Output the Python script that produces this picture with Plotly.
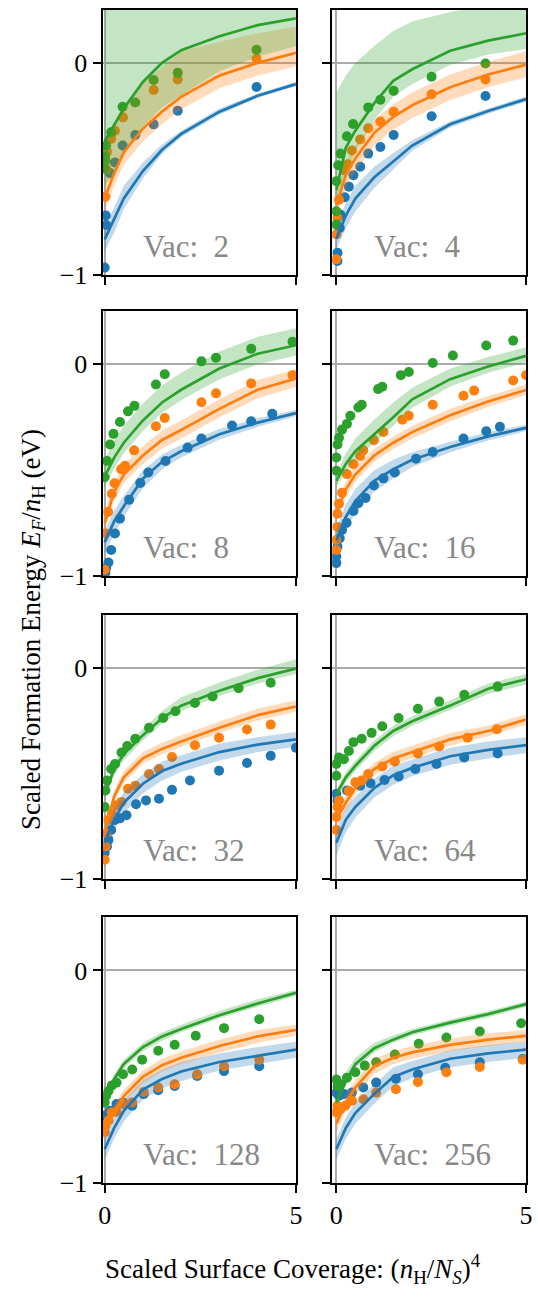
import plotly.graph_objects as go

# ---------------- data ----------------
VACANCIES = [2, 4, 8, 16, 32, 64, 128, 256]
SERIES = ["BLUE", "ORANGE", "GREEN"]
COLORS = {"BLUE": "#1f77b4", "ORANGE": "#ff7f0e", "GREEN": "#2ca02c"}
FILLS = {"BLUE": "rgba(31,119,180,0.28)", "ORANGE": "rgba(255,127,14,0.28)", "GREEN": "rgba(44,160,44,0.28)"}
LINE_X = [0, 0.25, 0.5, 1, 1.5, 2, 3, 4, 5]
X_TICKS = [0, 5]
Y_TICKS = [-1, 0]
Y_TICK_TEXT = ["\u22121", "0"]

# ---- Vac 2 ----
V2_BLUE_X = [0.0, 0.03, 0.04, 0.14, 0.27, 0.47, 0.80, 1.28, 1.91, 3.97]
V2_BLUE_Y = [-0.966, -0.72, -0.765, -0.52, -0.47, -0.39, -0.34, -0.29, -0.226, -0.114]
V2_ORANGE_X = [0.02, 0.04, 0.06, 0.17, 0.27, 0.48, 1.28, 1.91, 3.97]
V2_ORANGE_Y = [-0.632, -0.50, -0.42, -0.358, -0.32, -0.257, -0.128, -0.078, 0.019]
V2_GREEN_X = [0.0, 0.01, 0.02, 0.04, 0.17, 0.47, 0.80, 1.28, 1.91, 3.97]
V2_GREEN_Y = [-0.50, -0.44, -0.46, -0.39, -0.327, -0.207, -0.187, -0.081, -0.047, 0.062]
V2_BLUE_FIT = [-0.833, -0.74, -0.64, -0.51, -0.41, -0.335, -0.23, -0.155, -0.10]
V2_BLUE_LO = [-0.89, -0.80, -0.69, -0.545, -0.43, -0.35, -0.245, -0.165, -0.11]
V2_BLUE_HI = [-0.78, -0.68, -0.58, -0.47, -0.385, -0.32, -0.215, -0.145, -0.09]
V2_ORANGE_FIT = [-0.64, -0.52, -0.42, -0.31, -0.23, -0.16, -0.06, 0.0, 0.047]
V2_ORANGE_LO = [-0.70, -0.58, -0.48, -0.37, -0.29, -0.22, -0.12, -0.06, -0.016]
V2_ORANGE_HI = [-0.45, -0.29, -0.20, -0.09, -0.02, 0.055, 0.10, 0.14, 0.17]
V2_GREEN_FIT = [-0.37, -0.29, -0.215, -0.09, 0.0, 0.06, 0.126, 0.178, 0.21]
V2_GREEN_LO = [-0.58, -0.52, -0.44, -0.30, -0.21, -0.155, -0.04, 0.03, 0.078]
V2_GREEN_HI = [0.5, 0.5, 0.5, 0.5, 0.5, 0.5, 0.5, 0.5, 0.5]

# ---- Vac 4 ----
V4_BLUE_X = [0.03, 0.03, 0.09, 0.11, 0.22, 0.33, 0.45, 0.63, 0.84, 1.16, 1.51, 2.51, 3.93]
V4_BLUE_Y = [-0.935, -0.896, -0.779, -0.717, -0.634, -0.584, -0.53, -0.49, -0.428, -0.397, -0.34, -0.252, -0.156]
V4_ORANGE_X = [0.0, 0.0, 0.03, 0.07, 0.20, 0.30, 0.41, 0.63, 0.84, 1.16, 1.51, 2.51, 3.93]
V4_ORANGE_Y = [-0.927, -0.81, -0.732, -0.646, -0.506, -0.478, -0.413, -0.361, -0.308, -0.277, -0.231, -0.148, -0.078]
V4_GREEN_X = [0.0, 0.0, 0.0, 0.05, 0.11, 0.28, 0.44, 0.84, 1.16, 1.51, 2.51, 3.93]
V4_GREEN_Y = [-0.763, -0.70, -0.558, -0.483, -0.428, -0.346, -0.288, -0.21, -0.174, -0.132, -0.065, -0.003]
V4_BLUE_FIT = [-0.83, -0.72, -0.64, -0.54, -0.465, -0.39, -0.29, -0.227, -0.171]
V4_BLUE_LO = [-0.88, -0.78, -0.70, -0.59, -0.505, -0.415, -0.305, -0.24, -0.183]
V4_BLUE_HI = [-0.78, -0.66, -0.58, -0.49, -0.425, -0.365, -0.275, -0.215, -0.159]
V4_ORANGE_FIT = [-0.67, -0.53, -0.45, -0.33, -0.255, -0.20, -0.115, -0.055, -0.008]
V4_ORANGE_LO = [-0.73, -0.59, -0.51, -0.39, -0.315, -0.26, -0.175, -0.115, -0.068]
V4_ORANGE_HI = [-0.61, -0.47, -0.39, -0.27, -0.195, -0.14, -0.055, 0.005, 0.055]
V4_GREEN_FIT = [-0.60, -0.40, -0.32, -0.19, -0.085, -0.03, 0.057, 0.105, 0.14]
V4_GREEN_LO = [-0.72, -0.52, -0.42, -0.27, -0.16, -0.10, -0.01, 0.04, 0.065]
V4_GREEN_HI = [-0.14, -0.06, 0.0, 0.08, 0.15, 0.195, 0.24, 0.27, 0.28]

# ---- Vac 8 ----
V8_BLUE_X = [0.02, 0.04, 0.10, 0.17, 0.27, 0.40, 0.64, 0.93, 1.14, 1.59, 2.17, 2.53, 3.33, 3.83, 4.38]
V8_BLUE_Y = [-0.984, -0.961, -0.935, -0.876, -0.798, -0.728, -0.639, -0.56, -0.51, -0.456, -0.393, -0.35, -0.289, -0.269, -0.233]
V8_ORANGE_X = [0.0, 0.02, 0.09, 0.19, 0.26, 0.43, 0.53, 0.77, 1.34, 1.57, 2.53, 2.91, 3.83, 4.91]
V8_ORANGE_Y = [-0.969, -0.798, -0.697, -0.611, -0.561, -0.495, -0.479, -0.406, -0.292, -0.253, -0.179, -0.137, -0.09, -0.051]
V8_GREEN_X = [0.0, 0.06, 0.14, 0.23, 0.40, 0.61, 0.78, 1.34, 1.57, 2.53, 2.91, 3.83, 4.91]
V8_GREEN_Y = [-0.533, -0.456, -0.378, -0.328, -0.272, -0.222, -0.196, -0.095, -0.047, 0.014, 0.031, 0.073, 0.107]
V8_BLUE_FIT = [-0.84, -0.74, -0.67, -0.54, -0.46, -0.41, -0.33, -0.275, -0.23]
V8_BLUE_LO = [-0.89, -0.80, -0.72, -0.585, -0.495, -0.44, -0.355, -0.295, -0.245]
V8_BLUE_HI = [-0.79, -0.69, -0.62, -0.50, -0.425, -0.38, -0.305, -0.255, -0.215]
V8_ORANGE_FIT = [-0.75, -0.60, -0.52, -0.43, -0.357, -0.31, -0.21, -0.12, -0.067]
V8_ORANGE_LO = [-0.79, -0.64, -0.56, -0.47, -0.397, -0.35, -0.25, -0.16, -0.107]
V8_ORANGE_HI = [-0.70, -0.555, -0.475, -0.385, -0.312, -0.265, -0.165, -0.075, -0.022]
V8_GREEN_FIT = [-0.53, -0.44, -0.37, -0.265, -0.18, -0.12, -0.02, 0.05, 0.09]
V8_GREEN_LO = [-0.58, -0.49, -0.42, -0.315, -0.23, -0.17, -0.07, 0.0, 0.04]
V8_GREEN_HI = [-0.45, -0.36, -0.29, -0.185, -0.10, -0.04, 0.06, 0.13, 0.17]

# ---- Vac 16 ----
V16_BLUE_X = [0.0, 0.0, 0.03, 0.09, 0.15, 0.27, 0.45, 0.58, 0.77, 0.99, 1.24, 1.54, 2.10, 2.54, 3.35, 3.95, 4.31]
V16_BLUE_Y = [-0.938, -0.907, -0.86, -0.821, -0.782, -0.748, -0.692, -0.655, -0.631, -0.572, -0.538, -0.51, -0.445, -0.414, -0.35, -0.316, -0.295]
V16_ORANGE_X = [0.0, 0.0, 0.03, 0.03, 0.07, 0.15, 0.28, 0.45, 0.63, 0.71, 0.99, 1.24, 1.74, 1.91, 2.54, 3.35, 3.63, 4.66, 5.0]
V16_ORANGE_Y = [-0.876, -0.829, -0.767, -0.705, -0.658, -0.606, -0.518, -0.471, -0.432, -0.406, -0.358, -0.319, -0.261, -0.243, -0.191, -0.148, -0.124, -0.076, -0.051]
V16_GREEN_X = [0.0, 0.0, 0.03, 0.07, 0.15, 0.28, 0.37, 0.58, 0.67, 1.10, 1.21, 1.70, 1.91, 2.54, 3.07, 3.95, 4.66]
V16_GREEN_Y = [-0.502, -0.44, -0.378, -0.347, -0.308, -0.281, -0.243, -0.204, -0.191, -0.117, -0.106, -0.051, -0.036, 0.006, 0.042, 0.089, 0.112]
V16_BLUE_FIT = [-0.83, -0.72, -0.645, -0.55, -0.495, -0.45, -0.39, -0.34, -0.30]
V16_BLUE_LO = [-0.88, -0.78, -0.70, -0.60, -0.54, -0.485, -0.415, -0.36, -0.315]
V16_BLUE_HI = [-0.78, -0.66, -0.59, -0.50, -0.45, -0.415, -0.365, -0.32, -0.285]
V16_ORANGE_FIT = [-0.70, -0.59, -0.52, -0.43, -0.37, -0.32, -0.24, -0.175, -0.121]
V16_ORANGE_LO = [-0.74, -0.625, -0.555, -0.46, -0.40, -0.35, -0.27, -0.20, -0.145]
V16_ORANGE_HI = [-0.66, -0.555, -0.485, -0.40, -0.34, -0.29, -0.21, -0.15, -0.095]
V16_GREEN_FIT = [-0.55, -0.47, -0.41, -0.33, -0.25, -0.165, -0.07, -0.01, 0.04]
V16_GREEN_LO = [-0.58, -0.51, -0.45, -0.37, -0.29, -0.205, -0.105, -0.04, 0.01]
V16_GREEN_HI = [-0.52, -0.42, -0.35, -0.26, -0.18, -0.11, -0.02, 0.035, 0.08]

# ---- Vac 32 ----
V32_BLUE_X = [0.0, 0.06, 0.10, 0.17, 0.27, 0.40, 0.57, 0.82, 1.08, 1.42, 1.76, 2.23, 2.99, 3.72, 4.34, 5.0]
V32_BLUE_Y = [-0.878, -0.847, -0.816, -0.769, -0.722, -0.714, -0.699, -0.647, -0.629, -0.621, -0.579, -0.535, -0.488, -0.452, -0.418, -0.379]
V32_ORANGE_X = [0.0, 0.02, 0.04, 0.10, 0.19, 0.31, 0.44, 0.61, 0.80, 1.16, 1.42, 1.76, 2.36, 2.99, 3.72, 4.34]
V32_ORANGE_Y = [-0.91, -0.847, -0.785, -0.722, -0.691, -0.652, -0.636, -0.574, -0.559, -0.504, -0.48, -0.423, -0.368, -0.332, -0.293, -0.27]
V32_GREEN_X = [0.0, 0.02, 0.06, 0.17, 0.27, 0.44, 0.59, 0.80, 1.16, 1.53, 1.85, 2.36, 2.82, 3.50, 4.34]
V32_GREEN_Y = [-0.66, -0.582, -0.535, -0.48, -0.457, -0.402, -0.371, -0.337, -0.285, -0.239, -0.207, -0.168, -0.137, -0.098, -0.072]
V32_BLUE_FIT = [-0.83, -0.72, -0.64, -0.55, -0.49, -0.455, -0.40, -0.365, -0.34]
V32_BLUE_LO = [-0.88, -0.77, -0.69, -0.595, -0.535, -0.495, -0.44, -0.40, -0.375]
V32_BLUE_HI = [-0.78, -0.67, -0.59, -0.505, -0.445, -0.415, -0.36, -0.33, -0.305]
V32_ORANGE_FIT = [-0.78, -0.61, -0.52, -0.43, -0.385, -0.35, -0.285, -0.225, -0.184]
V32_ORANGE_LO = [-0.81, -0.635, -0.545, -0.455, -0.41, -0.375, -0.31, -0.25, -0.209]
V32_ORANGE_HI = [-0.75, -0.58, -0.49, -0.40, -0.355, -0.32, -0.255, -0.195, -0.154]
V32_GREEN_FIT = [-0.60, -0.48, -0.41, -0.32, -0.24, -0.18, -0.11, -0.05, -0.005]
V32_GREEN_LO = [-0.63, -0.51, -0.44, -0.345, -0.265, -0.205, -0.135, -0.075, -0.03]
V32_GREEN_HI = [-0.57, -0.45, -0.375, -0.29, -0.205, -0.14, -0.07, -0.01, 0.04]

# ---- Vac 64 ----
V64_BLUE_X = [0.0, 0.03, 0.28, 0.63, 0.90, 1.27, 1.64, 2.08, 2.64, 3.37, 4.25]
V64_BLUE_Y = [-0.598, -0.629, -0.582, -0.559, -0.548, -0.532, -0.516, -0.48, -0.457, -0.426, -0.407]
V64_ORANGE_X = [0.0, 0.0, 0.03, 0.07, 0.33, 0.50, 0.67, 0.84, 1.21, 1.54, 2.15, 2.71, 3.46, 4.23]
V64_ORANGE_Y = [-0.769, -0.707, -0.66, -0.629, -0.585, -0.543, -0.535, -0.504, -0.468, -0.445, -0.407, -0.374, -0.332, -0.292]
V64_GREEN_X = [0.0, 0.0, 0.07, 0.20, 0.33, 0.45, 0.67, 0.93, 1.21, 1.64, 2.15, 2.71, 3.37, 4.25]
V64_GREEN_Y = [-0.512, -0.457, -0.426, -0.434, -0.395, -0.353, -0.337, -0.309, -0.278, -0.239, -0.195, -0.161, -0.129, -0.09]
V64_BLUE_FIT = [-0.83, -0.72, -0.66, -0.57, -0.51, -0.475, -0.42, -0.39, -0.367]
V64_BLUE_LO = [-0.89, -0.78, -0.71, -0.615, -0.555, -0.515, -0.46, -0.43, -0.405]
V64_BLUE_HI = [-0.77, -0.66, -0.61, -0.525, -0.465, -0.435, -0.38, -0.35, -0.33]
V64_ORANGE_FIT = [-0.72, -0.64, -0.57, -0.48, -0.43, -0.40, -0.34, -0.30, -0.246]
V64_ORANGE_LO = [-0.76, -0.675, -0.60, -0.51, -0.46, -0.43, -0.37, -0.325, -0.27]
V64_ORANGE_HI = [-0.68, -0.605, -0.54, -0.45, -0.40, -0.37, -0.31, -0.275, -0.22]
V64_GREEN_FIT = [-0.60, -0.52, -0.465, -0.37, -0.30, -0.254, -0.18, -0.10, -0.055]
V64_GREEN_LO = [-0.62, -0.545, -0.49, -0.395, -0.325, -0.275, -0.20, -0.125, -0.08]
V64_GREEN_HI = [-0.58, -0.495, -0.44, -0.345, -0.275, -0.23, -0.155, -0.075, -0.03]

# ---- Vac 128 ----
V128_BLUE_X = [0.0, 0.04, 0.14, 0.31, 0.48, 0.72, 1.02, 1.40, 1.83, 2.42, 3.12, 4.04]
V128_BLUE_Y = [-0.682, -0.713, -0.659, -0.628, -0.62, -0.636, -0.581, -0.563, -0.543, -0.496, -0.473, -0.45]
V128_ORANGE_X = [0.0, 0.02, 0.10, 0.19, 0.31, 0.48, 0.72, 1.02, 1.40, 1.83, 2.42, 3.12, 4.04]
V128_ORANGE_Y = [-0.76, -0.729, -0.705, -0.667, -0.664, -0.628, -0.62, -0.571, -0.55, -0.535, -0.488, -0.45, -0.419]
V128_GREEN_X = [0.0, 0.04, 0.10, 0.19, 0.31, 0.48, 0.72, 0.98, 1.40, 1.83, 2.38, 3.12, 4.04]
V128_GREEN_Y = [-0.62, -0.589, -0.566, -0.54, -0.527, -0.488, -0.465, -0.419, -0.377, -0.349, -0.307, -0.271, -0.229]
V128_BLUE_FIT = [-0.84, -0.74, -0.66, -0.56, -0.51, -0.475, -0.43, -0.40, -0.372]
V128_BLUE_LO = [-0.89, -0.79, -0.71, -0.605, -0.555, -0.52, -0.47, -0.44, -0.41]
V128_BLUE_HI = [-0.79, -0.69, -0.61, -0.515, -0.465, -0.43, -0.39, -0.36, -0.335]
V128_ORANGE_FIT = [-0.76, -0.66, -0.59, -0.50, -0.445, -0.41, -0.355, -0.31, -0.279]
V128_ORANGE_LO = [-0.79, -0.69, -0.62, -0.53, -0.475, -0.44, -0.385, -0.34, -0.305]
V128_ORANGE_HI = [-0.73, -0.63, -0.56, -0.47, -0.415, -0.38, -0.325, -0.28, -0.255]
V128_GREEN_FIT = [-0.60, -0.51, -0.44, -0.36, -0.31, -0.275, -0.21, -0.155, -0.105]
V128_GREEN_LO = [-0.62, -0.53, -0.46, -0.38, -0.33, -0.29, -0.225, -0.17, -0.12]
V128_GREEN_HI = [-0.58, -0.49, -0.42, -0.34, -0.29, -0.255, -0.19, -0.135, -0.09]

# ---- Vac 256 ----
V256_BLUE_X = [0.0, 0.07, 0.20, 0.41, 0.71, 1.05, 1.57, 2.15, 2.87, 3.78, 4.91]
V256_BLUE_Y = [-0.574, -0.589, -0.581, -0.574, -0.55, -0.527, -0.509, -0.488, -0.457, -0.431, -0.416]
V256_ORANGE_X = [0.0, 0.03, 0.11, 0.24, 0.41, 0.71, 1.05, 1.57, 2.15, 2.90, 3.78, 4.91]
V256_ORANGE_Y = [-0.667, -0.636, -0.651, -0.636, -0.612, -0.605, -0.574, -0.558, -0.524, -0.478, -0.454, -0.419]
V256_GREEN_X = [0.0, 0.03, 0.11, 0.28, 0.50, 0.75, 1.05, 1.54, 2.17, 2.90, 3.78, 4.87]
V256_GREEN_Y = [-0.512, -0.543, -0.535, -0.504, -0.478, -0.447, -0.431, -0.395, -0.344, -0.315, -0.287, -0.248]
V256_BLUE_FIT = [-0.84, -0.74, -0.67, -0.58, -0.50, -0.465, -0.415, -0.39, -0.372]
V256_BLUE_LO = [-0.89, -0.79, -0.72, -0.625, -0.545, -0.505, -0.455, -0.43, -0.41]
V256_BLUE_HI = [-0.79, -0.69, -0.62, -0.535, -0.455, -0.425, -0.375, -0.35, -0.335]
V256_ORANGE_FIT = [-0.72, -0.62, -0.55, -0.45, -0.41, -0.385, -0.35, -0.325, -0.307]
V256_ORANGE_LO = [-0.76, -0.655, -0.585, -0.485, -0.44, -0.415, -0.38, -0.355, -0.335]
V256_ORANGE_HI = [-0.68, -0.585, -0.515, -0.415, -0.38, -0.355, -0.32, -0.295, -0.28]
V256_GREEN_FIT = [-0.62, -0.52, -0.44, -0.365, -0.325, -0.29, -0.245, -0.205, -0.158]
V256_GREEN_LO = [-0.64, -0.54, -0.46, -0.385, -0.34, -0.305, -0.26, -0.22, -0.172]
V256_GREEN_HI = [-0.58, -0.48, -0.41, -0.34, -0.305, -0.275, -0.23, -0.19, -0.145]

# ---------------- layout constants ----------------
FONT = "Liberation Serif"
X_DOMAINS = [[0.187, 0.554], [0.6227, 0.9907]]
Y_DOMAINS = [[0.7863, 0.9923], [0.5519, 0.7579], [0.3167, 0.5219], [0.0799, 0.2867]]
X_RANGES = [[-0.055, 5.0], [-0.11, 5.0]]
Y_RANGE = [-1.0, 0.25]

G = globals()
fig = go.Figure()
layout = {}
annotations = []

for i, vac in enumerate(VACANCIES):
    row, col = divmod(i, 2)
    n = i + 1
    xa, ya = f"x{n}", f"y{n}"
    # points first (fills are drawn over them)
    for s in SERIES:
        fig.add_trace(go.Scatter(
            x=G[f"V{vac}_{s}_X"], y=G[f"V{vac}_{s}_Y"], mode="markers",
            marker=dict(color=COLORS[s], size=10, line=dict(width=0)),
            xaxis=xa, yaxis=ya, showlegend=False, hoverinfo="skip"))
    for s in SERIES:
        lo = G[f"V{vac}_{s}_LO"]
        hi = G[f"V{vac}_{s}_HI"]
        fig.add_trace(go.Scatter(
            x=LINE_X + LINE_X[::-1], y=hi + lo[::-1], mode="lines",
            fill="toself", fillcolor=FILLS[s], line=dict(width=0),
            xaxis=xa, yaxis=ya, showlegend=False, hoverinfo="skip"))
    for s in SERIES:
        fig.add_trace(go.Scatter(
            x=LINE_X, y=G[f"V{vac}_{s}_FIT"], mode="lines",
            line=dict(color=COLORS[s], width=2.7),
            xaxis=xa, yaxis=ya, showlegend=False, hoverinfo="skip"))

    common = dict(showline=True, linecolor="black", linewidth=2, mirror=True,
                  ticks="outside", ticklen=8, tickwidth=2, tickcolor="black",
                  showgrid=False, zeroline=True, zerolinecolor="#aaaaaa",
                  zerolinewidth=2, tickfont=dict(family=FONT, size=26, color="black"))
    layout[f"xaxis{n}"] = dict(common, domain=X_DOMAINS[col], range=X_RANGES[col],
                               anchor=ya, tickvals=X_TICKS,
                               showticklabels=(row == 3))
    layout[f"yaxis{n}"] = dict(common, domain=Y_DOMAINS[row], range=Y_RANGE,
                               anchor=xa, tickvals=Y_TICKS, ticktext=Y_TICK_TEXT,
                               showticklabels=(col == 0))
    annotations.append(dict(
        x=0.95, y=-0.865, xref=xa, yref=ya, xanchor="left", yanchor="middle",
        text=f"Vac:\u00a0 {vac}", showarrow=False,
        font=dict(family=FONT, size=31, color="#888888")))

annotations.append(dict(
    x=295 / 538, y=1 - 1284 / 1301, xref="paper", yref="paper",
    xanchor="center", yanchor="middle", showarrow=False,
    text="Scaled Surface Coverage: (<i>n</i><sub>H</sub>/<i>N<sub>S</sub></i>)<sup>4</sup>",
    font=dict(family=FONT, size=27, color="black")))
annotations.append(dict(
    x=29 / 538, y=1 - 637 / 1301, xref="paper", yref="paper",
    xanchor="center", yanchor="middle", showarrow=False, textangle=-90,
    text="Scaled Formation Energy <i>E<sub>F</sub></i>/<i>n</i><sub>H</sub> (eV)",
    font=dict(family=FONT, size=27, color="black")))

fig.update_layout(
    width=538, height=1301, margin=dict(l=0, r=0, t=0, b=0),
    paper_bgcolor="white", plot_bgcolor="white",
    annotations=annotations, showlegend=False, **layout)

fig.write_html("out.html")
